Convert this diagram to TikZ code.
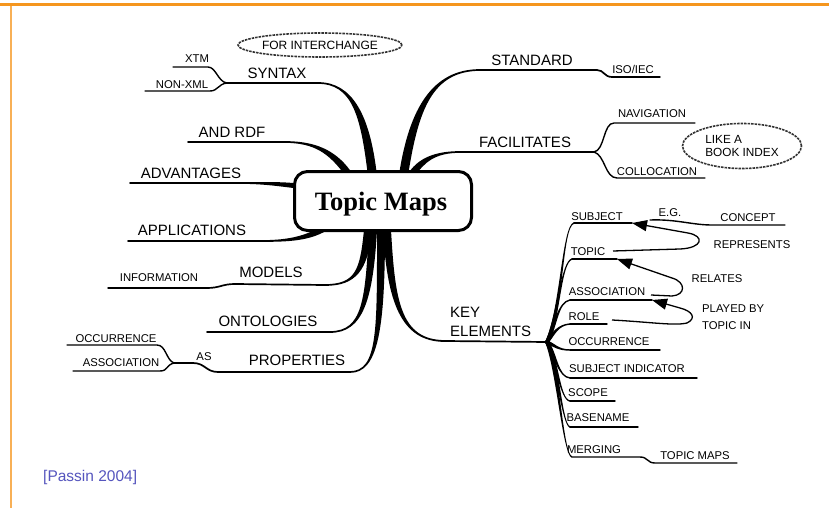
\documentclass[tikz,border=0pt]{standalone}
\usepackage{fontspec}
\setmainfont{Liberation Sans}
\newfontfamily\tmserif{Liberation Serif}
\usetikzlibrary{calc,arrows.meta,shapes.geometric}
\definecolor{frameor}{RGB}{245,150,30}
\definecolor{citeblue}{RGB}{85,85,190}
\tikzset{
 big/.style={font=\fontsize{15}{19}\selectfont, inner sep=0pt},
 small/.style={font=\fontsize{11.3}{14}\selectfont, inner sep=0pt},
 uline/.style={line width=1.7pt, line cap=round},
 sline/.style={line width=1.4pt, line cap=round},
 loopline/.style={line width=1.3pt},
 arr/.style={-{Triangle[length=15pt,width=11pt]}},
 cloudy/.style={draw=black!80, shape=ellipse, dash pattern=on 2.5pt off 1pt, line width=1.6pt, inner sep=0pt}
}
% tapered branch: #1 start, #2 control1, #3 control2, #4 end, #5 half width at start, #6 half width at end
\newcommand\tbranch[6]{%
  \path ($(#1)!#5!90:(#2)$) coordinate (tA)
        ($(#1)!#5!-90:(#2)$) coordinate (tB)
        ($(#4)!#6!-90:(#3)$) coordinate (tC)
        ($(#4)!#6!90:(#3)$) coordinate (tD);
  \fill (tA) .. controls ($(#2)+(tA)-(#1)$) and ($(#3)+(tC)-(#4)$) .. (tC)
        -- (tD) .. controls ($(#3)+(tD)-(#4)$) and ($(#2)+(tB)-(#1)$) .. (tB) -- cycle;}
\begin{document}
\begin{tikzpicture}[x=1pt,y=-1pt]
\useasboundingbox (0,0) rectangle (829,508);
\fill[white] (0,0) rectangle (829,508);
% frame
\fill[frameor] (0,3.5) rectangle (829,6.5);
\fill[frameor!75] (10,6.5) rectangle (12,508);

% ---------- SYNTAX
\coordinate (hSyn) at (372,172);
\coordinate (synE) at (318,83);
\coordinate (synJ) at (227,83);
\tbranch{hSyn}{365,115}{352,83}{synE}{4.5pt}{0.85pt}
\draw[uline] (synE) -- (synJ);
\coordinate (xtmS) at (208,67); \coordinate (xtmE) at (173,67);
\draw[sline] (synJ) .. controls (218,82) and (216,67) .. (xtmS) -- (xtmE);
\coordinate (nxS) at (210,91); \coordinate (nxE) at (145,91);
\draw[sline] (synJ) .. controls (218,84) and (218,91) .. (nxS) -- (nxE);

% ---------- AND RDF
\coordinate (hRdf) at (347,172); \coordinate (rdfE) at (285,142); \coordinate (rdfL) at (188,142);
\tbranch{hRdf}{332,152}{315,142}{rdfE}{3.5pt}{0.85pt}
\draw[uline] (rdfE) -- (rdfL);

% ---------- ADVANTAGES
\coordinate (hAdv) at (298,186); \coordinate (advE) at (240,183); \coordinate (advL) at (130,183);
\tbranch{hAdv}{280,184}{265,183}{advE}{2.5pt}{0.85pt}
\draw[uline] (advE) -- (advL);

% ---------- APPLICATIONS
\coordinate (hApp) at (325,228); \coordinate (appE) at (262,241); \coordinate (appL) at (128,241);
\tbranch{hApp}{308,238}{290,241}{appE}{3pt}{0.85pt}
\draw[uline] (appE) -- (appL);

% ---------- MODELS
\coordinate (hMod) at (368,230); \coordinate (modE) at (325,285); \coordinate (modS) at (235,284);
\coordinate (infS) at (207,288); \coordinate (infE) at (108,288);
\tbranch{hMod}{364,270}{356,285}{modE}{4pt}{0.85pt}
\draw[uline] (modE) -- (modS) .. controls (222,284) and (220,288) .. (infS);
\draw[sline] (infS) -- (infE);

% ---------- ONTOLOGIES
\coordinate (hOnt) at (373,230); \coordinate (ontE) at (330,332); \coordinate (ontL) at (207,332);
\tbranch{hOnt}{369,300}{363,332}{ontE}{4pt}{0.85pt}
\draw[uline] (ontE) -- (ontL);

% ---------- PROPERTIES
\coordinate (hPro) at (381,230); \coordinate (proE) at (350,372); \coordinate (proS) at (218,372);
\coordinate (asS) at (193,363); \coordinate (asJ) at (174,363);
\tbranch{hPro}{381,330}{378,372}{proE}{4pt}{0.85pt}
\draw[uline] (proE) -- (proS) .. controls (206,372) and (205,363) .. (asS) -- (asJ);
\coordinate (ocS) at (157,345); \coordinate (ocE) at (67,345);
\draw[sline] (asJ) .. controls (166,360) and (166,345) .. (ocS) -- (ocE);
\coordinate (asoS) at (160,371); \coordinate (asoE) at (73,371);
\draw[sline] (asJ) .. controls (166,365) and (168,371) .. (asoS) -- (asoE);

% ---------- KEY ELEMENTS
\coordinate (hKey) at (387,230); \coordinate (keyE) at (445,341); \coordinate (keyJ) at (547,342);
\tbranch{hKey}{391,300}{400,341}{keyE}{4pt}{0.9pt}
\draw[uline] (keyE) -- (keyJ);

% ---------- STANDARD
\coordinate (hStd) at (404,172); \coordinate (stdE) at (480,70); \coordinate (stdS) at (597,70);
\coordinate (isoS) at (612,77); \coordinate (isoE) at (660,77);
\tbranch{hStd}{414,110}{432,70}{stdE}{4.5pt}{0.85pt}
\draw[uline] (stdE) -- (stdS) .. controls (604,70) and (604,77) .. (isoS);
\draw[sline] (isoS) -- (isoE);

% ---------- FACILITATES
\coordinate (hFac) at (412,174); \coordinate (facE) at (460,152); \coordinate (facJ) at (594,152);
\tbranch{hFac}{422,160}{435,152}{facE}{3.5pt}{0.85pt}
\draw[uline] (facE) -- (facJ);
\coordinate (navS) at (614,123); \coordinate (navE) at (695,123);
\draw[sline] (facJ) .. controls (605,150) and (603,123) .. (navS) -- (navE);
\coordinate (colS) at (617,178); \coordinate (colE) at (705,178);
\draw[sline] (facJ) .. controls (605,155) and (605,178) .. (colS) -- (colE);

% ---------- key element sub-branches
\coordinate (sbjS) at (574,223); \coordinate (sbjE) at (632,223);
\tbranch{keyJ}{562,310}{562,226}{sbjS}{1.8pt}{0.7pt}
\draw[sline] (sbjS) -- (sbjE);
\coordinate (topS) at (572,259); \coordinate (topE) at (617,259);
\tbranch{keyJ}{559,315}{561,262}{topS}{1.8pt}{0.7pt}
\draw[sline] (topS) -- (topE);
\coordinate (kaS) at (570,300); \coordinate (kaE) at (652,300);
\tbranch{keyJ}{556,325}{558,302}{kaS}{1.8pt}{0.7pt}
\draw[sline] (kaS) -- (kaE);
\coordinate (rolS) at (570,324); \coordinate (rolE) at (607,324);
\tbranch{keyJ}{554,333}{558,325}{rolS}{1.8pt}{0.7pt}
\draw[sline] (rolS) -- (rolE);
\coordinate (kocS) at (570,350); \coordinate (kocE) at (660,350);
\tbranch{keyJ}{554,345}{558,350}{kocS}{1.8pt}{0.7pt}
\draw[sline] (kocS) -- (kocE);
\coordinate (siS) at (570,378); \coordinate (siE) at (697,378);
\tbranch{keyJ}{556,355}{558,377}{siS}{1.8pt}{0.7pt}
\draw[sline] (siS) -- (siE);
\coordinate (scS) at (570,401); \coordinate (scE) at (615,401);
\tbranch{keyJ}{557,360}{560,400}{scS}{1.8pt}{0.7pt}
\draw[sline] (scS) -- (scE);
\coordinate (bnS) at (570,427); \coordinate (bnE) at (638,427);
\tbranch{keyJ}{558,365}{562,425}{bnS}{1.8pt}{0.7pt}
\draw[sline] (bnS) -- (bnE);
\coordinate (mgS) at (572,457); \coordinate (mgE) at (640,457);
\coordinate (tmS) at (655,463); \coordinate (tmE) at (737,463);
\tbranch{keyJ}{558,370}{563,455}{mgS}{1.8pt}{0.7pt}
\draw[sline] (mgS) -- (mgE) .. controls (648,457) and (647,463) .. (tmS) -- (tmE);

% ---------- loops with arrows
\coordinate (repS) at (613,251);
\draw[loopline, arr] (repS) -- (680,249) .. controls (703,248) and (705,236) .. (688,233) -- (sbjE);
\coordinate (cnS) at (712,225); \coordinate (cnE) at (785,225); \coordinate (egE) at (650,220);
\draw[sline] (cnE) -- (cnS) .. controls (692,225) and (676,219) .. (egE);
\coordinate (relS) at (651,295);
\draw[loopline, arr] (relS) -- (672,296) .. controls (686,295) and (686,282) .. (672,278) -- (topE);
\coordinate (plS) at (612,320);
\draw[loopline, arr] (plS) .. controls (650,322) and (675,326) .. (687,323) .. controls (697,318) and (692,311) .. (680,308) -- (kaE);

% ---------- central box
\node[draw, line width=3pt, rounded corners=13pt, fill=white, minimum width=177pt, minimum height=59pt, inner sep=0pt] (tm) at (383,201) {};
\node[anchor=base, inner sep=0pt, font=\tmserif\bfseries\fontsize{26.5}{28}\selectfont] (tmText) at (381,210) {Topic Maps};

% ---------- labels
\node[big] (tSyn) at (277,73) {SYNTAX};
\node[small] (tXtm) at (197,59) {XTM};
\node[small] (tNx) at (182,85) {NON-XML};
\node[cloudy, minimum width=150pt, minimum height=24pt, font=\fontsize{12}{14}\selectfont] (tFor) at (320,45) {FOR INTERCHANGE};
\node[big] (tRdf) at (232,132) {AND RDF};
\node[big] (tAdv) at (191,173) {ADVANTAGES};
\node[big] (tApp) at (192,230) {APPLICATIONS};
\node[big] (tMod) at (271,272) {MODELS};
\node[small] (tInf) at (159,278) {INFORMATION};
\node[big] (tOnt) at (268,321) {ONTOLOGIES};
\node[big] (tPro) at (297,360) {PROPERTIES};
\node[small] (tAs) at (204,357) {AS};
\node[small] (tOcc) at (116,339) {OCCURRENCE};
\node[small] (tAso) at (121,363) {ASSOCIATION};
\node[big] (tStd) at (532,60) {STANDARD};
\node[small] (tIso) at (633,69) {ISO/IEC};
\node[big] (tFac) at (525,142) {FACILITATES};
\node[small] (tNav) at (652,114) {NAVIGATION};
\node[small] (tCol) at (657,172) {COLLOCATION};
\node[cloudy, align=left, minimum width=119pt, minimum height=45pt, font=\fontsize{11.8}{13.5}\selectfont] (tBook) at (742,146) {LIKE A\\BOOK INDEX};
\node[big, align=left, anchor=west] (tKey) at (450,322) {KEY\\ELEMENTS};
\node[small] (kSub) at (597,217) {SUBJECT};
\node[small] (kEg) at (670,213) {E.G.};
\node[small] (kCon) at (748,218) {CONCEPT};
\node[small] (kRep) at (752,245) {REPRESENTS};
\node[small] (kTop) at (588,252) {TOPIC};
\node[small] (kRel) at (717,279) {RELATES};
\node[small] (kAso) at (607,292) {ASSOCIATION};
\node[small, align=left, anchor=west, font=\fontsize{11.3}{17}\selectfont] (kPl) at (702,317.5) {PLAYED BY\\TOPIC IN};
\node[small] (kRol) at (584,317) {ROLE};
\node[small] (kOcc) at (609,342) {OCCURRENCE};
\node[small] (kSi) at (627,369) {SUBJECT INDICATOR};
\node[small] (kSc) at (588,393) {SCOPE};
\node[small] (kBn) at (598,418) {BASENAME};
\node[small] (kMg) at (594,450) {MERGING};
\node[small] (kTm) at (695,456) {TOPIC MAPS};
\node[anchor=base west, inner sep=0pt, text=citeblue, font=\fontsize{15.5}{16}\selectfont] (cite) at (43,481) {[Passin 2004]};
\end{tikzpicture}
\end{document}
